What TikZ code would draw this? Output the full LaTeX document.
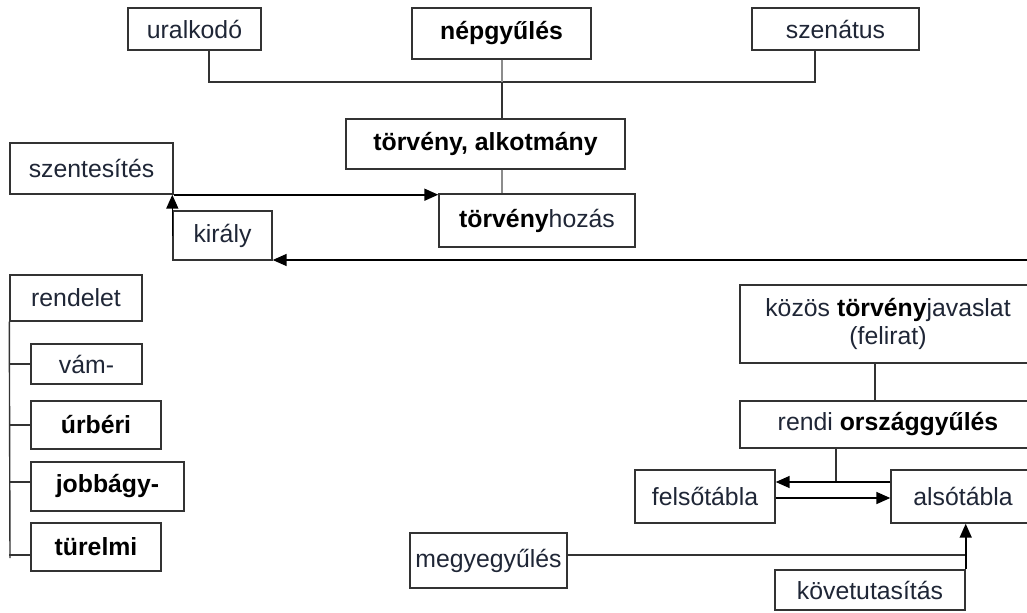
\documentclass[tikz,border=0pt]{standalone}
\usepackage{fontspec}
\setmainfont{Liberation Sans}
\usepackage{tikz}
\usetikzlibrary{shapes,arrows.meta,positioning,calc}
\usepackage{xcolor}
\definecolor{ink}{HTML}{1F2636}
\newcommand{\kiem}[1]{\textbf{\color{black}#1}}

\begin{document}
\begin{tikzpicture}[
    x=0.5pt, y=-0.5pt,
    box/.style={rectangle, draw=black!80, line width=0.7pt, inner sep=0pt, text=ink, text centered, font=\fontsize{12.4}{14}\selectfont},
    line/.style={draw=black!80, line width=0.7pt},
    faint/.style={draw=black!45, line width=0.7pt},
    arrow/.style={-{Triangle[length=7pt,width=6pt]}, line width=0.8pt, color=black}
]
\clip (0,0) rectangle (1027,612);
\fill[white] (0,0) rectangle (1027,612);

% Top row
\node[box, minimum width=66.5pt, minimum height=21pt] (uralkodo) at (194.5,29) {uralkodó};
\node[box, minimum width=89.5pt, minimum height=25.5pt] (nepgyules) at (501.5,33.5) {\kiem{népgyűlés}};
\node[box, minimum width=83.5pt, minimum height=21pt] (szenatus) at (835.5,29) {szenátus};

% Legislation
\node[box, minimum width=139.5pt, minimum height=25pt] (torveny) at (485.5,144) {\kiem{törvény, alkotmány}};
\node[box, minimum width=81.5pt, minimum height=25.5pt] (szentesites) at (91.5,168.5) {szentesítés};
\node[box, minimum width=98pt, minimum height=26.5pt] (torvenyhozas) at (537,220.5) {\kiem{törvény}hozás};
\node[box, minimum width=49.5pt, minimum height=24.5pt] (kiraly) at (222.5,235.5) {király};

% Decrees
\node[box, minimum width=66pt, minimum height=23pt] (rendelet) at (76,298) {rendelet};
\node[box, minimum width=55.5pt, minimum height=20pt] (vam) at (86.5,364) {vám-};
\node[box, minimum width=65pt, minimum height=24pt] (urberi) at (96,425) {\kiem{úrbéri}};
\node[box, minimum width=76.5pt, minimum height=24.5pt] (jobbagy) at (107.5,486.5) {\kiem{jobbágy-}};
\node[box, minimum width=65pt, minimum height=24pt] (turelmi) at (96,547) {\kiem{türelmi}};

% Diet
\node[box, minimum width=148pt, minimum height=39pt, align=center] (kozos) at (888,324) {közös \kiem{törvény}javaslat\\(felirat)};
\node[box, minimum width=148pt, minimum height=23.5pt] (rendi) at (888,424.5) {rendi \kiem{országgyűlés}};
\node[box, minimum width=70pt, minimum height=26.5pt] (felso) at (705,496.5) {felsőtábla};
\node[box, minimum width=72pt, minimum height=26.5pt] (also) at (963,496.5) {alsótábla};
\node[box, minimum width=78.5pt, minimum height=27.5pt] (megye) at (488.5,560.5) {megyegyűlés};
\node[box, minimum width=95pt, minimum height=20pt] (kovet) at (870,590) {követutasítás};

% Junction points
\coordinate (fork) at (502,82);
\coordinate (kiraly-in) at (1040,260);
\coordinate (tabla) at (836,482);
\coordinate (rend-end) at (10,558);
\coordinate (megye-out) at ($(megye.east)+(0,-5.5)$);

% Connectors, top
\draw[line] ($(uralkodo.south)+(14.5,0)$) |- (fork) -| ($(szenatus.south)+(-20.5,0)$);
\draw[faint] (fork |- nepgyules.south) -- (fork);
\draw[line] (fork) -- (fork |- torveny.north);
\draw[faint] (fork |- torveny.south) -- (fork |- torvenyhozas.north);
\draw[arrow] (szentesites.south east) -- (szentesites.south east -| torvenyhozas.west);
\draw[arrow] (kiraly.north west |- kiraly.west) -- (kiraly.west |- szentesites.south);
\draw[arrow] (kiraly-in) -- (kiraly-in -| kiraly.east);

% Connectors, decrees
\draw[line] (rendelet.south west) -- (rend-end);
\draw[line] (rendelet.south west |- vam.west) -- (vam.west);
\draw[line] (rendelet.south west |- urberi.west) -- (urberi.west);
\draw[line] ($(rendelet.south west |- jobbagy.west)+(0,-4.5)$) -- ($(jobbagy.west)+(0,-4.5)$);
\draw[line] ($(rendelet.south west |- turelmi.west)+(0,8)$) -- ($(turelmi.west)+(0,8)$);

% Connectors, diet
\draw[line] ($(kozos.south)+(-13,0)$) -- ($(rendi.north)+(-13,0)$);
\draw[line] (tabla |- rendi.south) -- (tabla);
\draw[arrow] (also.west |- tabla) -- (felso.east |- tabla);
\draw[arrow] ($(felso.east)+(0,1.5)$) -- ($(also.west)+(0,1.5)$);
\draw[line] (megye-out) -- (megye-out -| kovet.north east);
\draw[arrow] (kovet.north east) -- (kovet.north east |- also.south);

\end{tikzpicture}
\end{document}
